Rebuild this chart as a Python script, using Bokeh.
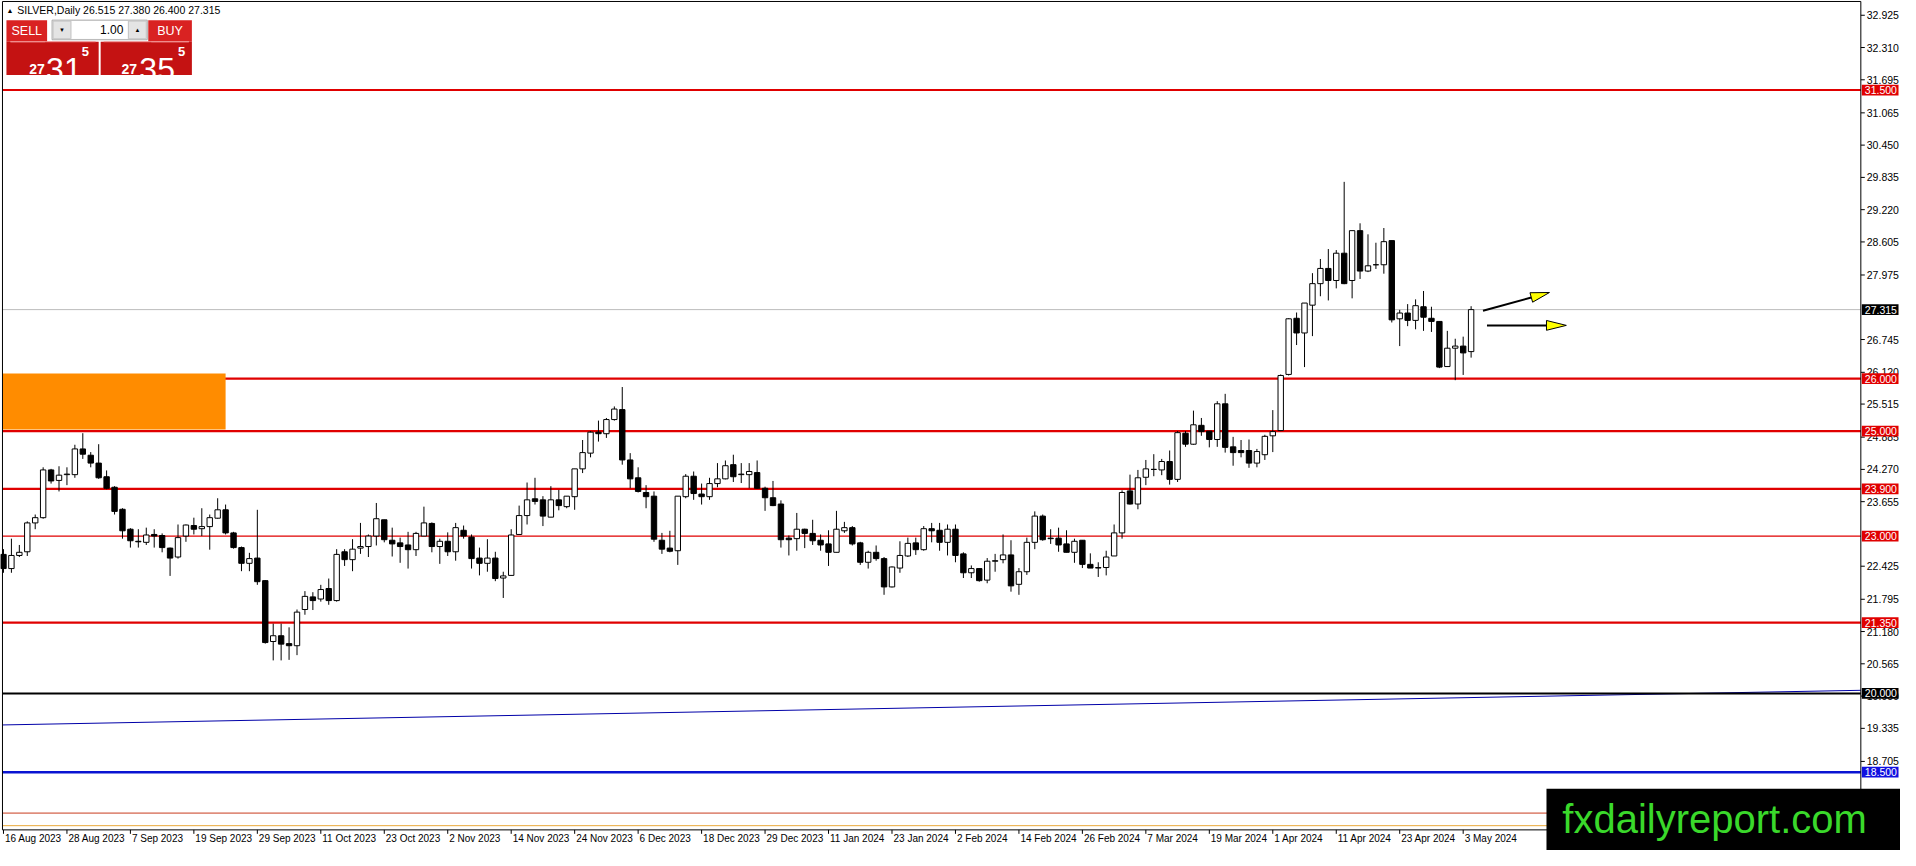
import numpy as np
from bokeh.plotting import figure
from bokeh.models import Range1d, ColumnDataSource
from bokeh.core.properties import value
from bokeh.embed import file_html
from bokeh.resources import INLINE

# ---------------- data ----------------
opens = [22.65, 22.38, 22.63, 22.70, 23.25, 23.35, 24.26, 24.06, 24.17, 24.17,
         24.66, 24.54, 24.39, 24.13, 23.93, 23.51, 23.13, 22.90, 22.88, 23.03,
         23.01, 22.77, 22.60, 23.00, 23.20, 23.14, 23.18, 23.34, 23.50, 23.06,
         22.78, 22.48, 22.58, 22.15, 20.99, 21.10, 20.95, 20.91, 21.60, 21.84,
         21.80, 22.00, 21.77, 22.70, 22.55, 22.77, 22.80, 23.00, 23.31, 22.92,
         22.87, 22.83, 22.74, 23.00, 23.24, 22.80, 22.90, 22.70, 23.11, 22.98,
         22.58, 22.48, 22.58, 22.20, 22.25, 23.03, 23.39, 23.71, 23.69, 23.36,
         23.69, 23.56, 23.75, 24.28, 24.58, 24.98, 24.95, 25.22, 25.41, 24.45,
         24.11, 23.83, 23.76, 22.92, 22.77, 22.72, 23.75, 24.14, 23.80, 23.75,
         24.00, 24.09, 24.36, 24.17, 24.17, 24.21, 23.91, 23.73, 23.61, 22.96,
         22.95, 23.13, 23.05, 22.92, 22.85, 22.69, 23.10, 23.16, 22.87, 22.50,
         22.69, 22.57, 22.03, 22.39, 22.62, 22.87, 22.74, 23.14, 23.11, 22.88,
         23.13, 22.66, 22.30, 22.38, 22.16, 22.52, 22.55, 22.64, 22.08, 22.32,
         22.88, 23.38, 22.96, 22.96, 22.85, 22.69, 22.92, 22.46, 22.39, 22.40,
         22.62, 23.06, 23.86, 23.61, 24.12, 24.27, 24.26, 24.42, 24.08, 24.96,
         24.75, 25.11, 25.00, 24.84, 25.52, 24.70, 24.63, 24.63, 24.39, 24.55,
         24.91, 25.01, 26.08, 27.15, 26.87, 27.40, 27.81, 28.10, 27.87, 28.39,
         27.87, 28.82, 28.05, 28.17, 28.17, 28.63, 27.14, 27.25, 27.11, 27.37,
         27.15, 27.09, 26.23, 26.58, 26.62, 26.515]
highs = [22.75, 22.95, 22.83, 23.28, 23.41, 24.31, 24.28, 24.33, 24.31, 24.74,
         24.96, 24.60, 24.75, 24.25, 23.95, 23.53, 23.15, 23.13, 23.16, 23.13,
         23.05, 22.78, 23.22, 23.22, 23.35, 23.53, 23.41, 23.72, 23.60, 23.08,
         22.80, 22.68, 23.50, 22.16, 21.33, 21.33, 21.26, 21.60, 21.95, 21.93,
         22.07, 22.19, 22.75, 22.75, 22.94, 23.25, 23.03, 23.63, 23.31, 23.16,
         22.97, 23.08, 23.08, 23.56, 23.26, 22.95, 23.07, 23.25, 23.20, 23.03,
         22.78, 22.94, 22.70, 22.32, 23.13, 23.58, 24.02, 24.11, 23.76, 23.95,
         23.88, 23.76, 24.28, 24.83, 25.00, 25.20, 25.25, 25.47, 25.84, 24.58,
         24.31, 23.97, 23.85, 23.06, 23.10, 23.76, 24.18, 24.23, 24.00, 24.11,
         24.39, 24.44, 24.55, 24.39, 24.39, 24.44, 23.94, 24.05, 23.68, 23.01,
         23.44, 23.14, 23.31, 23.03, 23.11, 23.48, 23.27, 23.19, 22.89, 22.72,
         22.82, 22.60, 22.42, 22.90, 22.97, 22.97, 23.19, 23.25, 23.25, 23.22,
         23.22, 22.69, 22.44, 22.39, 22.58, 22.66, 23.03, 22.92, 22.39, 22.97,
         23.47, 23.41, 23.13, 23.16, 23.11, 22.95, 22.92, 22.67, 22.50, 22.72,
         23.22, 23.87, 24.17, 24.26, 24.45, 24.56, 24.47, 24.63, 25.00, 25.00,
         25.39, 25.25, 25.00, 25.57, 25.71, 24.89, 24.83, 24.84, 24.66, 24.93,
         25.40, 26.08, 27.15, 27.26, 27.44, 28.01, 28.28, 28.47, 28.45, 29.75,
         28.82, 28.96, 28.75, 28.59, 28.87, 28.63, 27.31, 27.42, 27.51, 27.67,
         27.37, 27.09, 26.91, 26.76, 26.80, 27.380]
lows = [22.30, 22.30, 22.60, 22.62, 23.13, 23.33, 24.00, 23.85, 23.97, 24.11,
        24.47, 24.31, 24.09, 23.89, 23.41, 22.95, 22.78, 22.78, 22.83, 22.78,
        22.69, 22.24, 22.57, 22.89, 23.03, 23.00, 22.74, 23.33, 23.03, 22.76,
        22.33, 22.33, 22.07, 20.95, 20.63, 20.63, 20.64, 20.73, 21.50, 21.59,
        21.75, 21.69, 21.75, 22.43, 22.33, 22.66, 22.60, 22.82, 22.88, 22.61,
        22.49, 22.38, 22.62, 23.00, 22.69, 22.47, 22.62, 22.53, 22.95, 22.38,
        22.25, 22.32, 22.14, 21.82, 22.25, 23.03, 23.22, 23.60, 23.19, 23.36,
        23.49, 23.53, 23.50, 24.20, 24.50, 24.80, 24.87, 25.20, 24.36, 23.91,
        23.83, 23.53, 22.89, 22.66, 22.69, 22.45, 23.72, 23.69, 23.60, 23.69,
        23.93, 24.08, 24.03, 24.01, 23.91, 23.90, 23.48, 23.57, 22.78, 22.63,
        22.72, 22.77, 22.83, 22.72, 22.43, 22.69, 23.06, 22.82, 22.45, 22.38,
        22.53, 21.88, 22.02, 22.30, 22.60, 22.64, 22.72, 22.88, 22.72, 22.63,
        22.50, 22.20, 22.20, 22.13, 22.10, 22.32, 22.48, 21.94, 21.88, 22.26,
        22.75, 22.91, 22.85, 22.70, 22.69, 22.49, 22.39, 22.39, 22.22, 22.25,
        22.62, 22.95, 23.60, 23.51, 23.97, 24.14, 24.16, 23.98, 24.03, 24.70,
        24.74, 24.91, 24.69, 24.70, 24.59, 24.34, 24.50, 24.30, 24.31, 24.45,
        24.60, 25.00, 26.06, 26.64, 26.22, 26.81, 27.57, 27.49, 27.72, 27.80,
        27.53, 27.90, 28.03, 28.09, 28.00, 27.07, 26.62, 27.00, 26.94, 26.91,
        26.89, 26.20, 26.23, 25.97, 26.07, 26.400]
closes = [22.38, 22.63, 22.69, 23.25, 23.35, 24.26, 24.05, 24.16, 24.18, 24.66,
          24.56, 24.39, 24.11, 23.91, 23.47, 23.10, 22.91, 22.89, 23.02, 23.00,
          22.78, 22.58, 22.97, 23.21, 23.13, 23.18, 23.35, 23.50, 23.06, 22.78,
          22.48, 22.57, 22.13, 20.97, 21.10, 20.94, 20.91, 21.55, 21.85, 21.77,
          21.98, 21.77, 22.65, 22.55, 22.75, 22.80, 23.00, 23.33, 22.93, 22.85,
          22.80, 22.74, 23.05, 23.25, 22.80, 22.90, 22.70, 23.16, 23.00, 22.57,
          22.48, 22.58, 22.19, 22.24, 23.02, 23.39, 23.69, 23.66, 23.38, 23.69,
          23.58, 23.76, 24.28, 24.59, 24.98, 24.95, 25.22, 25.42, 24.45, 24.09,
          23.85, 23.75, 22.94, 22.75, 22.71, 23.76, 24.14, 23.81, 23.75, 24.00,
          24.09, 24.34, 24.13, 24.18, 24.23, 23.91, 23.73, 23.58, 22.93, 22.93,
          23.13, 23.05, 22.91, 22.83, 22.69, 23.13, 23.16, 22.85, 22.50, 22.69,
          22.57, 22.03, 22.41, 22.63, 22.86, 22.74, 23.14, 23.10, 22.88, 23.13,
          22.63, 22.30, 22.38, 22.15, 22.52, 22.53, 22.64, 22.05, 22.32, 22.88,
          23.38, 22.93, 22.95, 22.83, 22.69, 22.90, 22.46, 22.39, 22.40, 22.60,
          23.06, 23.83, 23.61, 24.11, 24.28, 24.27, 24.42, 24.08, 24.97, 24.75,
          25.12, 24.99, 24.84, 25.52, 24.69, 24.59, 24.59, 24.39, 24.61, 24.90,
          24.99, 26.06, 27.14, 26.87, 27.44, 27.81, 28.10, 27.87, 28.39, 27.81,
          28.82, 28.05, 28.15, 28.17, 28.61, 27.12, 27.25, 27.11, 27.39, 27.17,
          27.09, 26.22, 26.58, 26.62, 26.49, 27.315]

date_tick_bars = [0, 8, 16, 24, 32, 40, 48, 56, 64, 72, 80, 88,
                  96, 104, 112, 120, 128, 136, 144, 152, 160, 168, 176, 184]
date_tick_labels = ["16 Aug 2023", "28 Aug 2023", "7 Sep 2023", "19 Sep 2023",
                    "29 Sep 2023", "11 Oct 2023", "23 Oct 2023", "2 Nov 2023",
                    "14 Nov 2023", "24 Nov 2023", "6 Dec 2023", "18 Dec 2023",
                    "29 Dec 2023", "11 Jan 2024", "23 Jan 2024", "2 Feb 2024",
                    "14 Feb 2024", "26 Feb 2024", "7 Mar 2024", "19 Mar 2024",
                    "1 Apr 2024", "11 Apr 2024", "23 Apr 2024", "3 May 2024"]
price_ticks = [32.925, 32.310, 31.695, 31.065, 30.450, 29.835, 29.220, 28.605,
               27.975, 26.745, 26.120, 25.515, 24.885, 24.270, 23.655, 22.425,
               21.795, 21.180, 20.565, 19.950, 19.335, 18.705]
red_levels = [31.5, 26.0, 25.0, 23.9, 23.0, 21.35]
black_level = 20.0
blue_level = 18.5
lower_red_level = 17.72
lower_orange_level = 17.48
zone_low, zone_high, zone_end_bar = 25.0, 26.1, 28
trend_start_price, trend_end_price = 19.40, 20.06
bid_price, ask_price = 27.315, 27.355
lot_size = 1.00
symbol = "SILVER,Daily"
watermark = "fxdailyreport.com"

# ---------------- layout helpers (reference pixel -> data) ----------------
PX_BAR = 8.0
PX_UNIT = 53.46


def bx(px):
    return (px - 3.0) / PX_BAR


def py(pix):
    return 20.0 + (706.0 - pix) / PX_UNIT


def dyp(d):
    return d / PX_UNIT


def dxb(d):
    return d / PX_BAR


FONT = "Liberation Sans"
RED = "#e00000"

p = figure(width=1900, height=850,
           x_range=Range1d(bx(0), bx(1916)), y_range=Range1d(py(866), py(0)),
           x_axis_location=None, y_axis_location=None,
           toolbar_location=None, output_backend="svg", min_border=0,
           outline_line_color=None, background_fill_color="white",
           border_fill_color="white")
p.grid.visible = False

FL, FR, FT, FB = bx(2), bx(1876), py(1), py(845)

# trend line and horizontal levels
p.line([FL, FR], [trend_start_price, trend_end_price], line_color="#0000a8", line_width=1)
p.segment(x0=[FL], y0=[lower_red_level], x1=[FR], y1=[lower_red_level], line_color="#c83c1e", line_width=1)
p.segment(x0=[FL], y0=[lower_orange_level], x1=[FR], y1=[lower_orange_level], line_color="#eaa838", line_width=1)
p.segment(x0=[FL], y0=[blue_level], x1=[FR], y1=[blue_level], line_color="#0a14d2", line_width=2.5)
p.segment(x0=[FL], y0=[black_level], x1=[FR], y1=[black_level], line_color="black", line_width=2)
red_widths = [2.2 if lv != 23.0 else 1.2 for lv in red_levels]
p.segment(x0=[FL] * len(red_levels), y0=red_levels, x1=[FR] * len(red_levels), y1=red_levels,
          line_color=RED, line_width=red_widths)
p.segment(x0=[FL], y0=[closes[-1]], x1=[FR], y1=[closes[-1]], line_color="#bcbcbc", line_width=1)

# supply/demand zone
p.quad(left=[FL], right=[zone_end_bar], bottom=[zone_low + dyp(1.5)], top=[zone_high],
       fill_color="#ff8c00", line_color=None)

# candles
o = np.array(opens)
c = np.array(closes)
idx = np.arange(len(opens))
src = ColumnDataSource(dict(x=idx, top=np.maximum(o, c), bottom=np.minimum(o, c),
                            high=highs, low=lows,
                            fill=np.where(c >= o, "white", "black")))
p.segment(x0="x", y0="low", x1="x", y1="high", source=src, line_color="black", line_width=1)
p.vbar(x="x", width=0.68, top="top", bottom="bottom", fill_color="fill",
       line_color="black", line_width=1, source=src)

# frame and axes (drawn by hand so the price tags can sit on the axis)
p.segment(x0=[FL, FL, FL, FR], y0=[FT, FT, FB, FT], x1=[FR, FL, FR, FR], y1=[FT, FB, FB, FB],
          line_color="black", line_width=1)
n = len(price_ticks)
p.segment(x0=[FR] * n, y0=price_ticks, x1=[bx(1880)] * n, y1=price_ticks, line_color="black", line_width=1)
p.text(x=[bx(1882)] * n, y=price_ticks, text=[f"{t:.3f}" for t in price_ticks],
       text_font=value(FONT), text_font_size=value("10.5px"), text_color="black",
       text_align="left", text_baseline="middle")
m = len(date_tick_bars)
p.segment(x0=date_tick_bars, y0=[FB] * m, x1=date_tick_bars, y1=[py(849)] * m, line_color="black", line_width=1)
p.text(x=[b + dxb(1.5) for b in date_tick_bars], y=[py(848.5)] * m, text=date_tick_labels,
       text_font=value(FONT), text_font_size=value("10px"), text_color="black",
       text_align="left", text_baseline="top")

# price tags on the axis
tag_prices = red_levels + [closes[-1], black_level, blue_level]
tag_colors = [RED] * len(red_levels) + ["black", "black", "#1010e0"]
k = len(tag_prices)
p.quad(left=[bx(1877)] * k, right=[bx(1914)] * k,
       top=[t + dyp(5.5) for t in tag_prices], bottom=[t - dyp(5.5) for t in tag_prices],
       fill_color=tag_colors, line_color=None)
p.text(x=[bx(1880)] * k, y=tag_prices, text=[f"{t:.3f}" for t in tag_prices],
       text_font=value(FONT), text_font_size=value("10.5px"), text_color="white",
       text_align="left", text_baseline="middle")


def rect(x0, y0, x1, y1, color, line=None):
    p.quad(left=[bx(x0)], right=[bx(x1)], top=[py(y0)], bottom=[py(y1)],
           fill_color=color, line_color=line, line_width=1)


def txt(x, y, s, size, color="black", align="left", baseline="middle", style="normal", font=FONT):
    p.text(x=[bx(x)], y=[py(y)], text=[s], text_font=value(font),
           text_font_size=value(f"{size}px"), text_color=color, text_align=align,
           text_baseline=baseline, text_font_style=style)


# one-click trading panel
ohlc = f"{opens[-1]:.3f} {highs[-1]:.3f} {lows[-1]:.3f} {closes[-1]:.3f}"
txt(6, 10, "\u25b2", 7)
txt(17, 10, f"{symbol}  {ohlc}", 10.5)
rect(6, 20, 47, 42, "#d92222")
rect(149, 20, 193, 42, "#d92222")
rect(6, 42, 99, 76, "#c41212")
rect(101, 42, 193, 76, "#c41212")
p.segment(x0=[bx(10), bx(152), bx(10), bx(104)], y0=[py(42)] * 4,
          x1=[bx(45), bx(190), bx(96), bx(190)], y1=[py(42)] * 4, line_color="#f09090", line_width=1)
rect(52, 20, 148, 40, "#f2f2f2", "#a8a8a8")
rect(53, 21, 71, 39, "#e4e4e4", "#c4c4c4")
rect(129, 21, 147, 39, "#e4e4e4", "#c4c4c4")
rect(72, 21, 128, 39, "white")
txt(62, 30, "\u25bc", 6, align="center")
txt(138, 30, "\u25b2", 6, align="center")
txt(124, 30, f"{lot_size:.2f}", 12, align="right")
txt(26.5, 31, "SELL", 12.5, "white", align="center")
txt(171, 31, "BUY", 12.5, "white", align="center")
bid_s = f"{bid_price:.3f}"
ask_s = f"{ask_price:.3f}"
txt(29, 70, bid_s[:2], 14, "white", baseline="alphabetic", style="bold")
txt(46, 70, bid_s[3:5], 32, "white", baseline="alphabetic")
txt(82, 47, bid_s[5], 13, "white", baseline="top", style="bold")
txt(122, 70, ask_s[:2], 14, "white", baseline="alphabetic", style="bold")
txt(140, 70, ask_s[3:5], 32, "white", baseline="alphabetic")
txt(179, 47, ask_s[5], 13, "white", baseline="top", style="bold")


# arrows
def arrow(x0, y0, x1, y1, head_len, half_w):
    dx, dy = x1 - x0, y1 - y0
    L = (dx * dx + dy * dy) ** 0.5
    ux, uy = dx / L, dy / L
    nx, ny = -uy, ux
    bxp, byp = x1 - head_len * ux, y1 - head_len * uy
    p.line([bx(x0), bx(bxp)], [py(y0), py(byp)], line_color="black", line_width=2)
    xs = [bx(x1), bx(bxp + half_w * nx), bx(bxp - half_w * nx)]
    ys = [py(y1), py(byp + half_w * ny), py(byp - half_w * ny)]
    p.patch(xs, ys, fill_color="#ffff00", line_color="black", line_width=1)


arrow(1495, 316, 1562, 297.5, 19, 5)
arrow(1499, 331, 1579, 331, 20, 5)

# watermark
rect(1559, 803, 1920, 870, "black")
txt(1575, 834, watermark, 40, "#3ad92b", baseline="middle")

open("out.html", "w").write(file_html(p, INLINE))
